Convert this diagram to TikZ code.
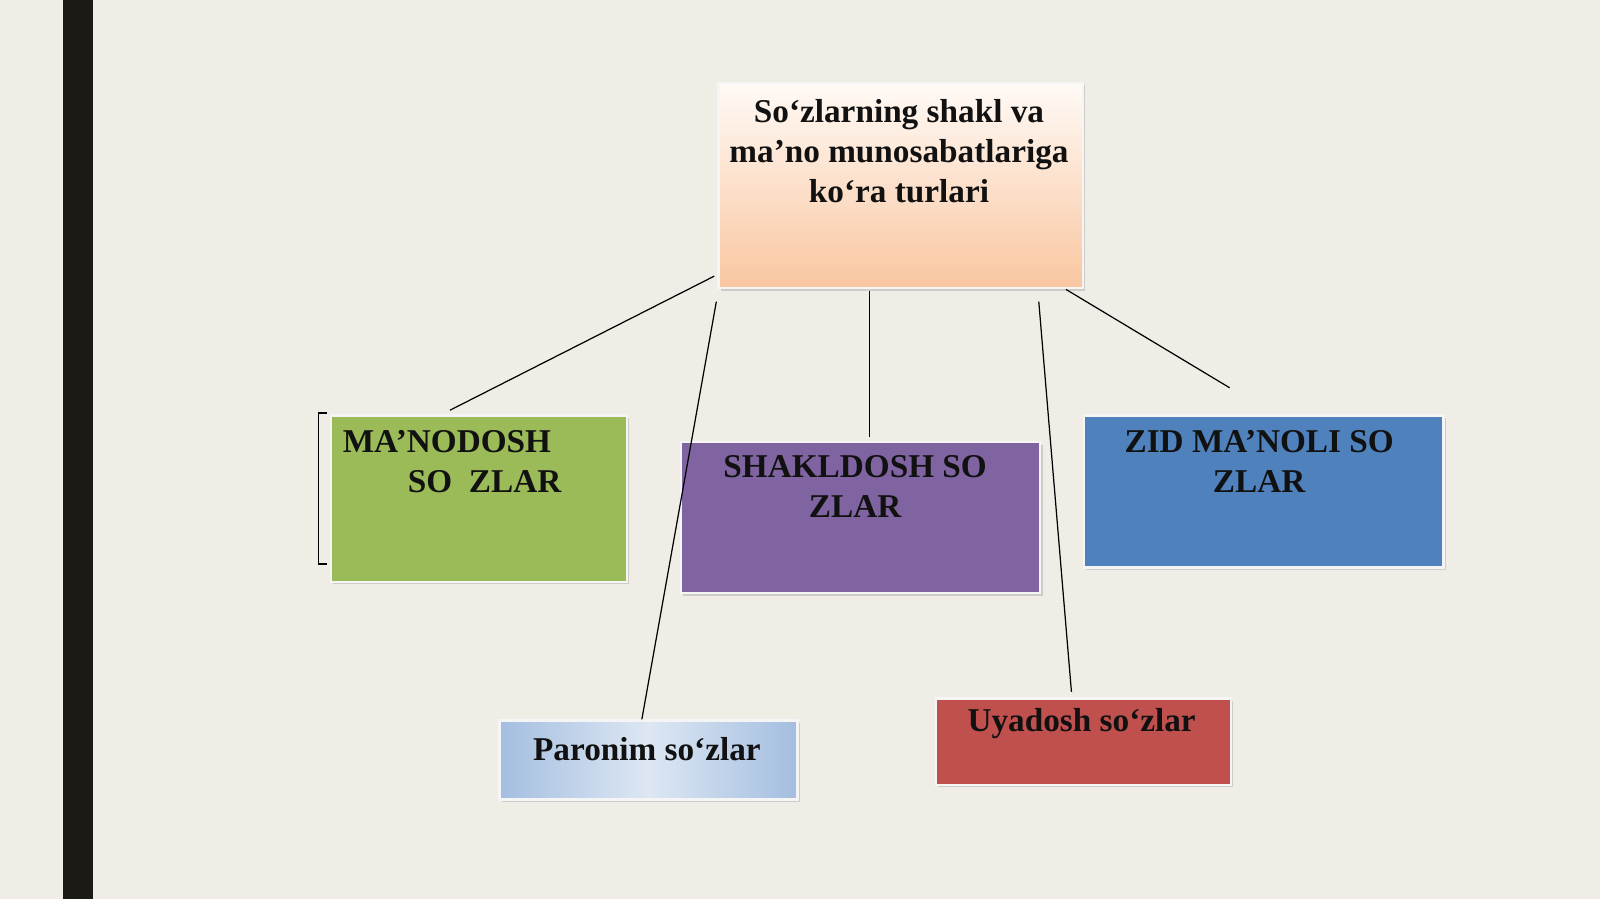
\documentclass[tikz,border=0pt]{standalone}
\usepackage{fontspec}
\setmainfont{Liberation Serif}
\usetikzlibrary{shadows,calc}
\definecolor{bg}{HTML}{EFEDE6}
\definecolor{barc}{HTML}{1C1A14}
\definecolor{cgreen}{HTML}{9BBB59}
\definecolor{cpurple}{HTML}{8064A2}
\definecolor{cblue}{HTML}{4F81BD}
\definecolor{cred}{HTML}{C0504D}
\definecolor{cpeach}{HTML}{F9C6A0}
\definecolor{cpale}{HTML}{FFFAF6}
\definecolor{lblue}{HTML}{A4BEE0}
\definecolor{llblue}{HTML}{DDE7F3}
\definecolor{txt}{HTML}{111111}
\tikzset{
  box/.style={draw=white!92!gray, line width=1.3pt, inner sep=0pt, anchor=north west,
    drop shadow={shadow xshift=1.2pt, shadow yshift=-1.2pt, opacity=0.3}},
  lbl/.style={font=\fontsize{16.3}{19.6}\selectfont\bfseries, text=txt, align=center, inner sep=0pt},
  conn/.style={draw=black, line width=0.6pt}
}
\begin{document}
\begin{tikzpicture}[x=0.5pt,y=-0.5pt]
\fill[bg] (0,0) rectangle (1568,881);
\useasboundingbox (0,0) rectangle (1568,881);
\fill[barc] (62,0) rectangle (91,881);

\node[box, top color=cpale, bottom color=cpeach, minimum width=178.5pt, minimum height=100.5pt] (top) at (703,80) {};
\node[box, fill=cgreen, minimum width=145pt, minimum height=81.5pt] (green) at (323,406) {};
\node[box, fill=cpurple, minimum width=176pt, minimum height=74pt] (purple) at (666,432) {};
\node[box, fill=cblue, minimum width=176pt, minimum height=74.5pt] (blue) at (1061,406) {};
\node[box, left color=lblue, right color=lblue, middle color=llblue, minimum width=146pt, minimum height=38.5pt] (paronim) at (488,705) {};
\node[box, fill=cred, minimum width=144.5pt, minimum height=42.5pt] (uya) at (916,683) {};

\draw[line width=0.8pt] (320,405) -- (312,405) -- (312,553) -- (320,553);

\node[lbl] (tTop) at (881,148) {So‘zlarning shakl va\\ma’no munosabatlariga\\ko‘ra turlari};
\node[lbl] (tGreenA) at (438,433) {MA’NODOSH};
\node[lbl] (tGreenB) at (475,472) {SO\ \ ZLAR};
\node[lbl] (tPurple) at (838,477) {SHAKLDOSH SO\\ZLAR};
\node[lbl] (tBlue) at (1234,452) {ZID MA’NOLI SO\\ZLAR};
\node[lbl] (tParonim) at (634,734) {Paronim so‘zlar};
\node[lbl] (tUya) at (1060,709) {Uyadosh so‘zlar};

\draw[conn] ($(top.south west)+(-3,-13)$) -- ($(green.north west)+(118,-4)$);
\draw[conn] ($(top.south west)+(-1,12)$) -- ($(paronim.north west)+(141,0)$);
\draw[conn] ($(top.south west)+(149,2)$) -- ($(purple.north west)+(186,-4)$);
\draw[conn] ($(top.south west)+(315,12)$) -- ($(uya.north west)+(134,-5)$);
\draw[conn] ($(top.south east)+(-18,0)$) -- ($(blue.north west)+(144,-26)$);
\end{tikzpicture}
\end{document}
